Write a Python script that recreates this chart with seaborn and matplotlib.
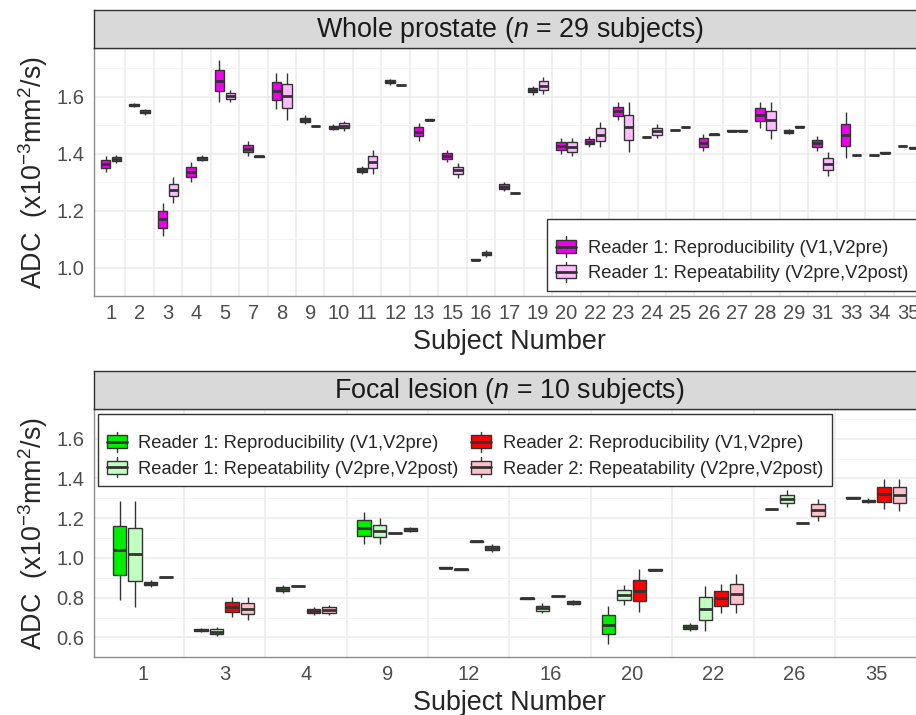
import matplotlib
matplotlib.use("Agg")
import matplotlib.pyplot as plt
import seaborn as sns
import pandas as pd
from matplotlib.legend_handler import HandlerBase
from matplotlib.patches import Rectangle, Patch
from matplotlib.lines import Line2D

# ---- data: each box is built from a pair of ADC measurements ----
wp_subjects = [1, 2, 3, 4, 5, 7, 8, 9, 10, 11, 12, 13, 15, 16, 17, 19, 20,
               22, 23, 24, 25, 26, 27, 28, 29, 31, 33, 34, 35]
wp_r1_repro = [(1.335, 1.390), (1.562, 1.578), (1.109, 1.228), (1.299, 1.369),
               (1.582, 1.729), (1.390, 1.445), (1.555, 1.684), (1.502, 1.534),
               (1.481, 1.503), (1.329, 1.356), (1.642, 1.663), (1.445, 1.508),
               (1.369, 1.413), (1.026, 1.030), (1.267, 1.301), (1.607, 1.637),
               (1.398, 1.455), (1.422, 1.462), (1.516, 1.579), (1.456, 1.460),
               (1.480, 1.484), (1.408, 1.469), (1.478, 1.482), (1.490, 1.582),
               (1.469, 1.485), (1.409, 1.462), (1.385, 1.545), (1.392, 1.396),
               (1.425, 1.429)]
wp_r1_repeat = [(1.367, 1.395), (1.536, 1.556), (1.228, 1.317), (1.372, 1.395),
                (1.581, 1.623), (1.388, 1.392), (1.518, 1.684), (1.494, 1.498),
                (1.479, 1.515), (1.327, 1.411), (1.638, 1.642), (1.515, 1.521),
                (1.315, 1.367), (1.037, 1.060), (1.260, 1.264), (1.609, 1.668),
                (1.390, 1.455), (1.422, 1.511), (1.404, 1.579), (1.453, 1.503),
                (1.490, 1.496), (1.465, 1.469), (1.478, 1.482), (1.451, 1.582),
                (1.492, 1.497), (1.322, 1.406), (1.392, 1.397), (1.399, 1.406),
                (1.419, 1.423)]

fl_subjects = [1, 3, 4, 9, 12, 16, 20, 22, 26, 35]
fl_r1_repro = [(0.788, 1.287), (0.628, 0.648), (0.826, 0.866), (1.071, 1.229),
               (0.948, 0.954), (0.794, 0.798), (0.567, 0.760), (0.634, 0.675),
               (1.245, 1.249), (1.302, 1.306)]
fl_r1_repeat = [(0.751, 1.287), (0.607, 0.652), (0.855, 0.861), (1.071, 1.200),
                (0.940, 0.946), (0.722, 0.772), (0.764, 0.864), (0.630, 0.858),
                (1.254, 1.340), (1.275, 1.300)]
fl_r2_repro = [(0.852, 0.890), (0.705, 0.801), (0.715, 0.755), (1.122, 1.126),
               (1.081, 1.085), (0.806, 0.810), (0.726, 0.946), (0.722, 0.871),
               (1.174, 1.178), (1.246, 1.395)]
fl_r2_repeat = [(0.901, 0.906), (0.688, 0.801), (0.712, 0.764), (1.131, 1.156),
                (1.028, 1.070), (0.764, 0.790), (0.939, 0.943), (0.721, 0.918),
                (1.184, 1.298), (1.238, 1.395)]

LAB_R1_REPRO = "Reader 1: Reproducibility (V1,V2pre)"
LAB_R1_REPEAT = "Reader 1: Repeatability (V2pre,V2post)"
LAB_R2_REPRO = "Reader 2: Reproducibility (V1,V2pre)"
LAB_R2_REPEAT = "Reader 2: Repeatability (V2pre,V2post)"

wp_colors = {LAB_R1_REPRO: "#EE00EE", LAB_R1_REPEAT: "#FFBBFF"}
fl_colors = {LAB_R1_REPRO: "#00EE00", LAB_R1_REPEAT: "#C1FFC1",
             LAB_R2_REPRO: "#FF0000", LAB_R2_REPEAT: "#FFC0CB"}


def long_frame(subjects, groups):
    rows = []
    for label, pairs in groups.items():
        for s, pair in zip(subjects, pairs):
            for v in pair:
                rows.append({"subject": str(s), "group": label, "adc": v})
    return pd.DataFrame(rows)


wp_df = long_frame(wp_subjects, {LAB_R1_REPRO: wp_r1_repro, LAB_R1_REPEAT: wp_r1_repeat})
fl_df = long_frame(fl_subjects, {LAB_R1_REPRO: fl_r1_repro, LAB_R1_REPEAT: fl_r1_repeat,
                                 LAB_R2_REPRO: fl_r2_repro, LAB_R2_REPEAT: fl_r2_repeat})


class BoxKey(HandlerBase):
    """ggplot-like boxplot legend key."""
    def create_artists(self, legend, orig, xd, yd, w, h, fontsize, trans):
        x0, y0 = -xd, -yd
        cx = x0 + w / 2
        wl = Line2D([cx, cx], [y0 - 0.28 * h, y0 + 1.28 * h], color="#333333", lw=1, transform=trans)
        box = Rectangle((x0, y0), w, h, facecolor=orig.get_facecolor(),
                        edgecolor="#333333", lw=1, transform=trans)
        med = Line2D([x0, x0 + w], [y0 + h / 2] * 2, color="#333333", lw=2, transform=trans)
        return [wl, box, med]


sns.set_style("white")
plt.rcParams["font.family"] = ["Liberation Sans", "DejaVu Sans"]
plt.rcParams["mathtext.fontset"] = "custom"
plt.rcParams["mathtext.rm"] = "Liberation Sans"
plt.rcParams["mathtext.it"] = "Liberation Sans:italic"
plt.rcParams["mathtext.bf"] = "Liberation Sans:bold"

fig = plt.figure(figsize=(9.16, 7.15), dpi=100)


def panel(rect, df, subjects, colors, ylim, yticks, title):
    ax = fig.add_axes(rect)
    sns.boxplot(data=df, x="subject", y="adc", hue="group",
                order=[str(s) for s in subjects], hue_order=list(colors),
                palette=colors, saturation=1, width=0.76, gap=0.12,
                linecolor="#333333", linewidth=1, showcaps=False,
                medianprops={"linewidth": 2}, legend=False, ax=ax)
    n = len(subjects)
    ax.set_xlim(-0.6, n - 0.4)
    ax.set_ylim(*ylim)
    ax.set_yticks(yticks)
    ax.set_yticklabels([f"{t:.1f}" for t in yticks])
    ax.set_yticks([t + 0.1 for t in yticks] + [yticks[0] - 0.1], minor=True)
    ax.set_xticks([i + 0.5 for i in range(n - 1)], minor=True)
    ax.set_axisbelow(True)
    ax.grid(which="major", axis="y", color="#EBEBEB", lw=1.1)
    ax.grid(which="minor", axis="y", color="#F3F3F3", lw=0.6)
    ax.grid(which="minor", axis="x", color="#EBEBEB", lw=1.1)
    ax.grid(which="major", axis="x", visible=False)
    ax.tick_params(which="both", length=0, labelsize=14.5, labelcolor="#4D4D4D")
    ax.tick_params(axis="x", pad=5.5)
    ax.tick_params(axis="y", pad=7)
    for sp in ax.spines.values():
        sp.set_color("#8C8C8C")
        sp.set_linewidth(1)
    ax.set_xlabel("Subject Number", fontsize=19.4, labelpad=4.5)
    ax.set_ylabel(r"ADC  (x10$^{-3}$mm$^{2}$/s)", fontsize=19.4)
    ax.yaxis.set_label_coords(-0.0535, 0.5)

    # facet strip
    l, b, w, h = rect
    st = fig.add_axes([l, b + h, w, 0.0536])
    st.set_facecolor("#D9D9D9")
    st.set_xticks([])
    st.set_yticks([])
    for sp in st.spines.values():
        sp.set_color("#333333")
        sp.set_linewidth(1)
    st.text(0.5, 0.47, title, transform=st.transAxes, ha="center", va="center",
            fontsize=19.4, color="#1A1A1A")
    return ax


ax1 = panel([0.1026, 0.586, 0.9072, 0.3464], wp_df, wp_subjects, wp_colors,
            (0.987, 1.769), [1.0, 1.2, 1.4, 1.6], r"Whole prostate ($n$ = 29 subjects)")
ax2 = panel([0.1026, 0.0807, 0.9072, 0.3469], fl_df, fl_subjects, fl_colors,
            (0.51, 1.748), [0.6, 0.8, 1.0, 1.2, 1.4, 1.6], r"Focal lesion ($n$ = 10 subjects)")

leg_kw = dict(handler_map={Patch: BoxKey()}, fontsize=13.25, frameon=True, fancybox=False,
              edgecolor="#333333", framealpha=1, borderaxespad=0, handlelength=1.09,
              handleheight=0.71, handletextpad=0.64, labelspacing=0.45, borderpad=0.48,
              columnspacing=0.65, title=" ", title_fontsize=3)

h1 = [Patch(facecolor=c, label=k) for k, c in wp_colors.items()]
lg1 = ax1.legend(handles=h1, loc="lower left", bbox_to_anchor=(0.545, 0.02), **leg_kw)
lg1.get_frame().set_linewidth(1)

h2 = [Patch(facecolor=c, label=k) for k, c in fl_colors.items()]
lg2 = ax2.legend(handles=h2, loc="upper left", bbox_to_anchor=(0.0045, 0.98), ncol=2, **leg_kw)
lg2.get_frame().set_linewidth(1)

fig.savefig("out.png", dpi=100)
